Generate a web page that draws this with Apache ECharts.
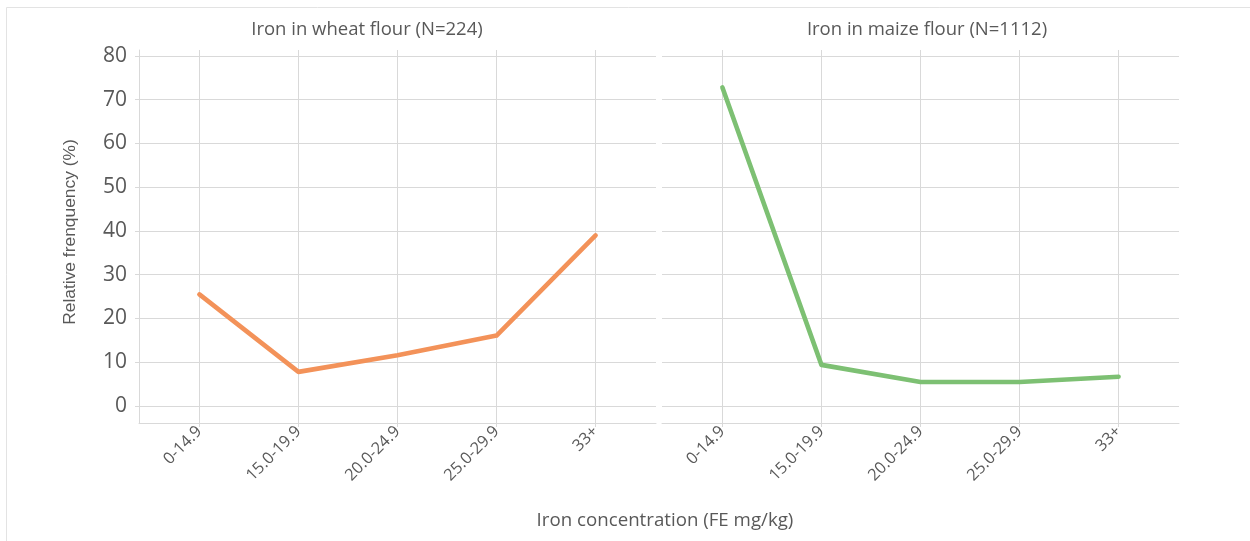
<!DOCTYPE html>
<html><head><meta charset="utf-8">
<script src="https://cdn.jsdelivr.net/npm/echarts@6/dist/echarts.min.js"></script>
<style>html,body{margin:0;padding:0;background:#fff}#c{width:1250px;height:541px}</style>
</head><body><div id="c"></div>
<script>
const categories = ['0-14.9', '15.0-19.9', '20.0-24.9', '25.0-29.9', '33+'];
const wheatValues = [25.5, 7.8, 11.6, 16.1, 39.0];
const maizeValues = [72.8, 9.4, 5.5, 5.5, 6.7];
const yTicks = [0, 10, 20, 30, 40, 50, 60, 70, 80];
const panelTitles = ['Iron in wheat flour (N=224)', 'Iron in maize flour (N=1112)'];
const xAxisTitle = 'Iron concentration (FE mg/kg)';
const yAxisTitle = 'Relative frenquency (%)';
const seriesColors = ['#F39259', '#7DC073'];

const FONT = '"Open Sans", Lato, sans-serif';
const FONT_Y = '"Liberation Sans", Arial, sans-serif';
const TXT = '#595959';
const GRIDC = '#d9d9d9';
const catIdx = categories.map((c, i) => i);
const panels = [wheatValues, maizeValues];
const grids = [
  { left: 139, top: 50, width: 517, height: 373 },
  { left: 662, top: 50, width: 517, height: 373 }
];

const xAxes = panels.map((_, i) => ({
  type: 'value', gridIndex: i, min: -0.61, max: 4.61,
  axisLine: { show: true, onZero: false, lineStyle: { color: GRIDC, width: 1 } },
  axisTick: { show: true, customValues: catIdx, length: 4, lineStyle: { color: GRIDC } },
  axisLabel: { customValues: catIdx, formatter: v => categories[Math.round(v)], rotate: 45,
    fontSize: 16.3, color: TXT, margin: 6, fontFamily: FONT },
  splitLine: { show: true, lineStyle: { color: GRIDC, width: 1 } }
}));
const yAxes = panels.map((_, i) => ({
  type: 'value', gridIndex: i, min: -3.886, max: 81.37,
  axisLine: { show: i === 0, onZero: false, lineStyle: { color: GRIDC, width: 1 } },
  axisTick: { show: i === 0, customValues: yTicks, length: 4, lineStyle: { color: GRIDC } },
  axisLabel: { show: i === 0, customValues: yTicks, fontSize: 21, color: TXT, margin: 12, fontFamily: FONT },
  splitLine: { show: true, lineStyle: { color: GRIDC, width: 1 } }
}));
const series = panels.map((vals, i) => ({
  type: 'line', xAxisIndex: i, yAxisIndex: i,
  data: vals.map((v, k) => [k, v]),
  symbol: 'none', silent: true,
  lineStyle: { color: seriesColors[i], width: 4.6, cap: 'round', join: 'round' }
}));

const txt = (text, x, y, size, rot, fam) => ({
  type: 'text', x: x, y: y, rotation: rot || 0, silent: true,
  style: { text: text, fontSize: size, fontFamily: fam || FONT, fill: TXT,
    align: 'center', verticalAlign: 'middle', textAlign: 'center', textVerticalAlign: 'middle' }
});

const chart = echarts.init(document.getElementById('c'), null, { renderer: 'canvas' });
chart.setOption({
  animation: false,
  backgroundColor: '#fff',
  grid: grids,
  xAxis: xAxes,
  yAxis: yAxes,
  series: series,
  graphic: [
    { type: 'rect', silent: true, shape: { x: 6.5, y: 7.5, width: 1300, height: 600 },
      style: { fill: 'none', stroke: '#e3e3e3', lineWidth: 1 } },
    txt(panelTitles[0], 367, 30, 18.5),
    txt(panelTitles[1], 927, 30, 18.5),
    txt(xAxisTitle, 665, 521, 18.7),
    txt(yAxisTitle, 70, 232, 17.4, Math.PI / 2, FONT_Y)
  ]
});
</script></body></html>
